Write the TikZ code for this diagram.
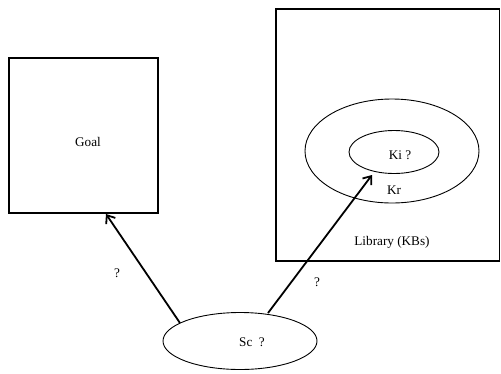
\documentclass[tikz,border=0pt]{standalone}
\usepackage{fontspec}
\setmainfont{Liberation Serif}
\usetikzlibrary{arrows.meta,shapes.geometric}
\begin{document}
\begin{tikzpicture}[x=1pt,y=-1pt,
  box/.style={draw,line width=1.1pt},
  ell/.style={draw,line width=0.9pt},
  lbl/.style={font=\fontsize{13.2}{15}\selectfont,inner sep=0pt},
  conn/.style={line width=1.8pt,-{Straight Barb[length=7pt,width=11pt,line width=1.8pt]}}]
\useasboundingbox (0,0) rectangle (501,373);
\fill[white] (0,0) rectangle (501,373);
% Goal box
\draw[box] (9,58) rectangle (158,213);
\node[lbl] (goal) at (88,142) {Goal};
\coordinate (goalin) at (106,214);
% Library box
\draw[box] (276,9) rectangle (499.5,261);
\node[lbl] (lib) at (392,242) {Library (KBs)};
% ellipses
\node[ell,ellipse,minimum width=174pt,minimum height=104pt,inner sep=0pt] (kr) at (392,151) {};
\node[ell,ellipse,minimum width=90pt,minimum height=43pt,inner sep=0pt] (ki) at (394,152) {};
\node[lbl] (kitext) at (400,155) {Ki ?};
\node[lbl] (krtext) at (394,190) {Kr};
\coordinate (kiin) at (372,175);
% Sc
\node[ell,ellipse,minimum width=154pt,minimum height=57pt,inner sep=0pt] (sc) at (240,341) {};
\node[lbl] (sctext) at (252,342) {Sc\ \ ?};
\coordinate (scl) at (180,323);
\coordinate (scr) at (268,313);
% connectors
\draw[conn] (scl) -- (goalin);
\draw[conn] (scr) -- (kiin);
\node[lbl] (q1) at (117,273) {?};
\node[lbl] (q2) at (317,282) {?};
\end{tikzpicture}
\end{document}
